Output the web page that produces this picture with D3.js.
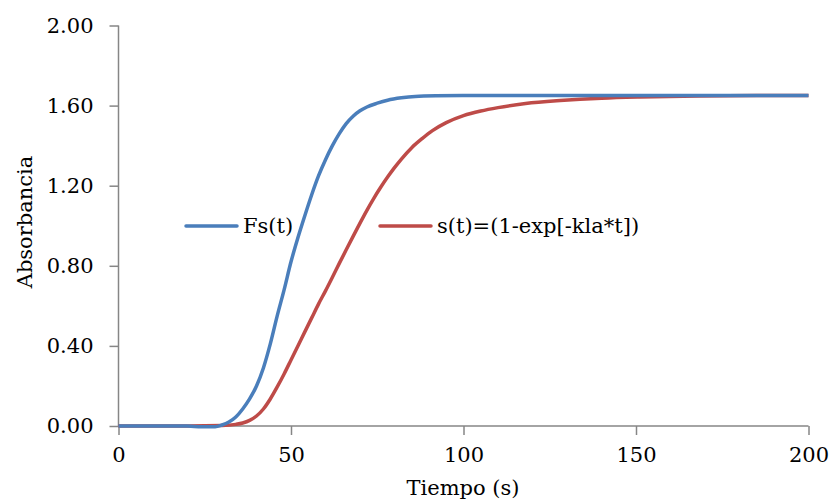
<!DOCTYPE html>
<html><head><meta charset="utf-8">
<script src="https://cdn.jsdelivr.net/npm/d3@7"></script>
<style>body{margin:0;background:#fff}svg{display:block}</style>
</head><body>
<script>
const xTicks = [0, 50, 100, 150, 200];
const yTicks = [0, 0.4, 0.8, 1.2, 1.6, 2.0];
const fsT = [0, 10, 20, 24, 28, 30, 32, 34, 36, 38, 40, 42, 44, 46, 48, 50, 52, 54, 56, 58, 60, 62, 64, 66, 68, 70, 72, 75, 78, 82, 86, 92, 100, 130, 160, 200];
const fsV = [0, 0, 0, -0.004, -0.004, 0.005, 0.02, 0.045, 0.085, 0.135, 0.2, 0.29, 0.41, 0.55, 0.68, 0.82, 0.94, 1.05, 1.155, 1.25, 1.33, 1.40, 1.46, 1.51, 1.547, 1.574, 1.593, 1.612, 1.627, 1.639, 1.646, 1.649, 1.65, 1.65, 1.65, 1.65];
const sT = [0, 10, 20, 30, 34, 36, 38, 40, 42, 44, 46, 48, 50, 52, 54, 56, 58, 60, 62, 64, 66, 68, 70, 72, 74, 76, 78, 80, 82, 85, 88, 91, 95, 100, 105, 110, 118, 128, 140, 151, 168, 185, 200];
const sV = [0, 0, 0, 0.002, 0.008, 0.015, 0.028, 0.05, 0.085, 0.135, 0.195, 0.26, 0.33, 0.40, 0.47, 0.54, 0.61, 0.675, 0.743, 0.812, 0.88, 0.947, 1.013, 1.077, 1.137, 1.192, 1.243, 1.29, 1.333, 1.39, 1.435, 1.475, 1.515, 1.55, 1.573, 1.59, 1.61, 1.625, 1.637, 1.643, 1.648, 1.65, 1.65];
const seriesNames = ["Fs(t)", "s(t)=(1-exp[-kla*t])"];
const colors = ["#4A7EBB", "#BE4B48"];

const W = 834, H = 501;
const svg = d3.select("body").append("svg").attr("width", W).attr("height", H);
const x = d3.scaleLinear().domain([0, 200]).range([118.5, 808.5]);
const y = d3.scaleLinear().domain([0, 2]).range([426, 25.5]);
const font = "'DejaVu Serif', serif";

const yAxis = svg.append("g").attr("transform", `translate(${x(0)},0)`)
  .call(d3.axisLeft(y).tickValues(yTicks).tickFormat(d3.format(".2f")).tickSize(9).tickPadding(16));
const xAxis = svg.append("g").attr("transform", `translate(0,${y(0)})`)
  .call(d3.axisBottom(x).tickValues(xTicks).tickSize(9).tickPadding(12));
[xAxis, yAxis].forEach(g => {
  g.selectAll("path,line").attr("stroke", "#868686").attr("stroke-width", 1.5);
  g.select(".domain").attr("d", null);
  g.selectAll("text").attr("font-family", font).attr("font-size", 21).attr("fill", "#000");
});
yAxis.append("line").attr("y1", y(0)).attr("y2", y(2)).attr("stroke", "#868686").attr("stroke-width", 1.5);
xAxis.append("line").attr("x1", x(0)).attr("x2", x(200)).attr("stroke", "#868686").attr("stroke-width", 1.5);

const line = d3.line().x(d => x(d[0])).y(d => y(d[1])).curve(d3.curveMonotoneX);
const data = [fsT.map((t, i) => [t, fsV[i]]), sT.map((t, i) => [t, sV[i]])];
[1, 0].forEach(i => {
  svg.append("path").datum(data[i]).attr("d", line).attr("fill", "none")
    .attr("stroke", colors[i]).attr("stroke-width", 3.5).attr("stroke-linejoin", "round");
});

const legX = [186, 380];
seriesNames.forEach((n, i) => {
  svg.append("line").attr("x1", legX[i]).attr("x2", legX[i] + 51).attr("y1", 226).attr("y2", 226)
    .attr("stroke", colors[i]).attr("stroke-width", 3.5).attr("stroke-linecap", "round");
  svg.append("text").attr("x", legX[i] + 57).attr("y", 233).text(n)
    .attr("font-family", font).attr("font-size", 21).attr("fill", "#000");
});

svg.append("text").attr("x", 463).attr("y", 495).attr("text-anchor", "middle").text("Tiempo (s)")
  .attr("font-family", font).attr("font-size", 21);
svg.append("text").attr("transform", "translate(32,222) rotate(-90)").attr("text-anchor", "middle").text("Absorbancia")
  .attr("font-family", font).attr("font-size", 21);
</script>
</body></html>
